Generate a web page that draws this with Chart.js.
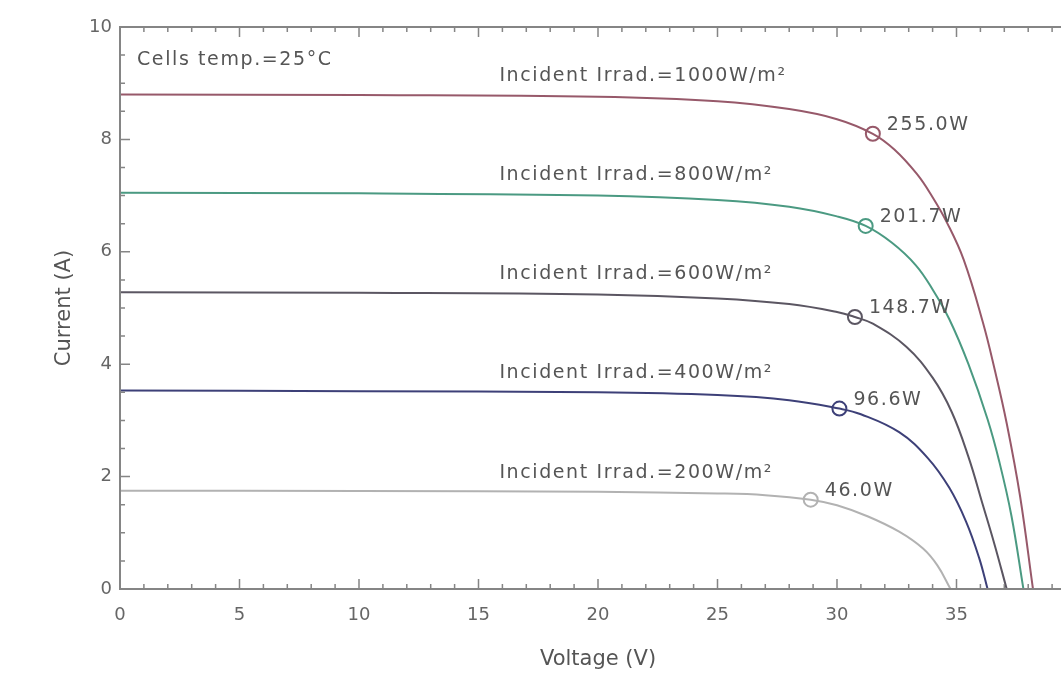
<!DOCTYPE html>
<html>
<head>
<meta charset="utf-8">
<script src="https://cdn.jsdelivr.net/npm/chart.js@4"></script>
<style>
  html, body { margin: 0; padding: 0; background: #fff; overflow: hidden; }
  #wrap { width: 1100px; height: 681px; }
</style>
</head>
<body>
<div id="wrap"><canvas id="ivChart" width="1100" height="681"></canvas></div>
<script>
// I-V curves (voltage in V, current in A)
const volt1000 = [0, 10, 20, 25, 28, 30, 31.5, 32.4, 33.35, 34.0, 34.6, 35.3, 36.1, 36.6, 37.1, 37.66, 38.2];
const curr1000 = [8.80, 8.79, 8.76, 8.68, 8.54, 8.36, 8.10, 7.82, 7.38, 6.97, 6.52, 5.86, 4.75, 3.9, 2.95, 1.65, 0];

const volt800 = [0, 10, 20, 25, 28, 30, 31.2, 32.3, 33.3, 34.0, 34.7, 35.5, 36.3, 36.8, 37.3, 37.8];
const curr800 = [7.05, 7.04, 7.0, 6.92, 6.8, 6.63, 6.46, 6.16, 5.76, 5.33, 4.8, 4.0, 3.02, 2.25, 1.3, 0];

const volt600 = [0, 10, 20, 25, 28, 30, 30.75, 31.5, 32.9, 34, 34.8, 35.5, 36.1, 36.6, 37.1];
const curr600 = [5.28, 5.27, 5.24, 5.17, 5.07, 4.93, 4.84, 4.72, 4.31, 3.76, 3.15, 2.35, 1.5, 0.78, 0];

const volt400 = [0, 10, 20, 25, 28, 30.1, 31, 32.6, 33.8, 34.7, 35.4, 35.95, 36.3];
const curr400 = [3.53, 3.52, 3.5, 3.45, 3.36, 3.21, 3.11, 2.79, 2.33, 1.8, 1.2, 0.55, 0];

const volt200 = [0, 10, 20, 25, 27, 28.9, 30, 31.3, 32.6, 33.6, 34.2, 34.75];
const curr200 = [1.75, 1.745, 1.73, 1.70, 1.67, 1.59, 1.49, 1.29, 1.02, 0.72, 0.42, 0];

// maximum power points
const mppVolt = [31.5, 31.2, 30.75, 30.1, 28.9];
const mppCurr = [8.10, 6.46, 4.84, 3.21, 1.59];
const mppText = ['255.0W', '201.7W', '148.7W', '96.6W', '46.0W'];

const irradText = ['Incident Irrad.=1000W/m²', 'Incident Irrad.=800W/m²', 'Incident Irrad.=600W/m²',
                   'Incident Irrad.=400W/m²', 'Incident Irrad.=200W/m²'];
const curveColors = ['#97596a', '#4b9a82', '#5b5662', '#3d4078', '#b2b2b2'];

const FONT = 'DejaVu Sans';

const curves = [
    [volt1000, curr1000], [volt800, curr800], [volt600, curr600], [volt400, curr400], [volt200, curr200]
];

function toPoints(vs, is) {
    return vs.map((v, k) => ({x: v, y: is[k]}));
}

const datasets = [];
curves.forEach((c, k) => {
    datasets.push({
        data: toPoints(c[0], c[1]),
        showLine: true,
        borderColor: curveColors[k],
        borderWidth: 2,
        pointRadius: 0,
        tension: 0.4
    });
});
mppVolt.forEach((v, k) => {
    datasets.push({
        data: [{x: v, y: mppCurr[k]}],
        showLine: false,
        pointRadius: 7,
        pointBorderWidth: 2,
        pointBorderColor: curveColors[k],
        pointBackgroundColor: '#fff'
    });
});

// frame with inward ticks on all sides
const frameTicks = {
    id: 'frameTicks',
    afterDatasetsDraw(chart) {
        const {ctx, chartArea: a, scales: {x, y}} = chart;
        ctx.save();
        ctx.strokeStyle = '#858585';
        ctx.lineWidth = 2;
        ctx.strokeRect(a.left, a.top, a.right - a.left, a.bottom - a.top);
        ctx.lineWidth = 1.5;
        ctx.beginPath();
        for (let v = 0; v <= 40; v++) {
            const px = x.getPixelForValue(v);
            const len = v % 5 === 0 ? 10 : 5;
            ctx.moveTo(px, a.bottom); ctx.lineTo(px, a.bottom - len);
            ctx.moveTo(px, a.top); ctx.lineTo(px, a.top + len);
        }
        for (let v = 0; v <= 10; v += 0.5) {
            const py = y.getPixelForValue(v);
            const len = v % 2 === 0 ? 10 : 5;
            ctx.moveTo(a.left, py); ctx.lineTo(a.left + len, py);
            ctx.moveTo(a.right, py); ctx.lineTo(a.right - len, py);
        }
        ctx.stroke();
        ctx.restore();
    }
};

// curve labels and power labels
const labelsPlugin = {
    id: 'labelsPlugin',
    afterDraw(chart) {
        const {ctx, scales: {x, y}} = chart;
        ctx.save();
        ctx.fillStyle = '#555';
        ctx.font = '19px "' + FONT + '"';
        ctx.letterSpacing = '1.6px';
        ctx.textBaseline = 'middle';
        ctx.textAlign = 'left';
        ctx.fillText('Cells temp.=25°C', x.getPixelForValue(0) + 17, y.getPixelForValue(10) + 33);
        curves.forEach((c, k) => {
            ctx.fillText(irradText[k], x.getPixelForValue(16) - 3, y.getPixelForValue(c[1][0]) - 18);
        });
        mppVolt.forEach((v, k) => {
            ctx.fillText(mppText[k], x.getPixelForValue(v) + 14, y.getPixelForValue(mppCurr[k]) - 9);
        });
        ctx.letterSpacing = '0px';
        ctx.restore();
    }
};

new Chart(document.getElementById('ivChart'), {
    type: 'scatter',
    data: {datasets: datasets},
    options: {
        responsive: false,
        animation: false,
        layout: {padding: {left: 0, top: 27, right: 24, bottom: 0}},
        plugins: {legend: {display: false}, tooltip: {enabled: false}},
        scales: {
            x: {
                type: 'linear', min: 0, max: 40,
                afterFit: s => { s.height = 92; },
                grid: {display: false, drawTicks: false},
                border: {display: false},
                ticks: {
                    stepSize: 5, padding: 16, maxRotation: 0, color: '#666',
                    font: {family: FONT, size: 18},
                    callback: v => (v === 40 ? '' : v)
                },
                title: {display: true, text: 'Voltage (V)', color: '#555',
                        font: {family: FONT, size: 21}, padding: {top: 0, bottom: 9}}
            },
            y: {
                type: 'linear', min: 0, max: 10,
                afterFit: s => { s.width = 120; },
                grid: {display: false, drawTicks: false},
                border: {display: false},
                ticks: {stepSize: 2, padding: 8, color: '#666', font: {family: FONT, size: 18}},
                title: {display: true, text: 'Current (A)', color: '#555',
                        font: {family: FONT, size: 21}, padding: {top: 52, bottom: 0}}
            }
        }
    },
    plugins: [frameTicks, labelsPlugin]
});
</script>
</body>
</html>
